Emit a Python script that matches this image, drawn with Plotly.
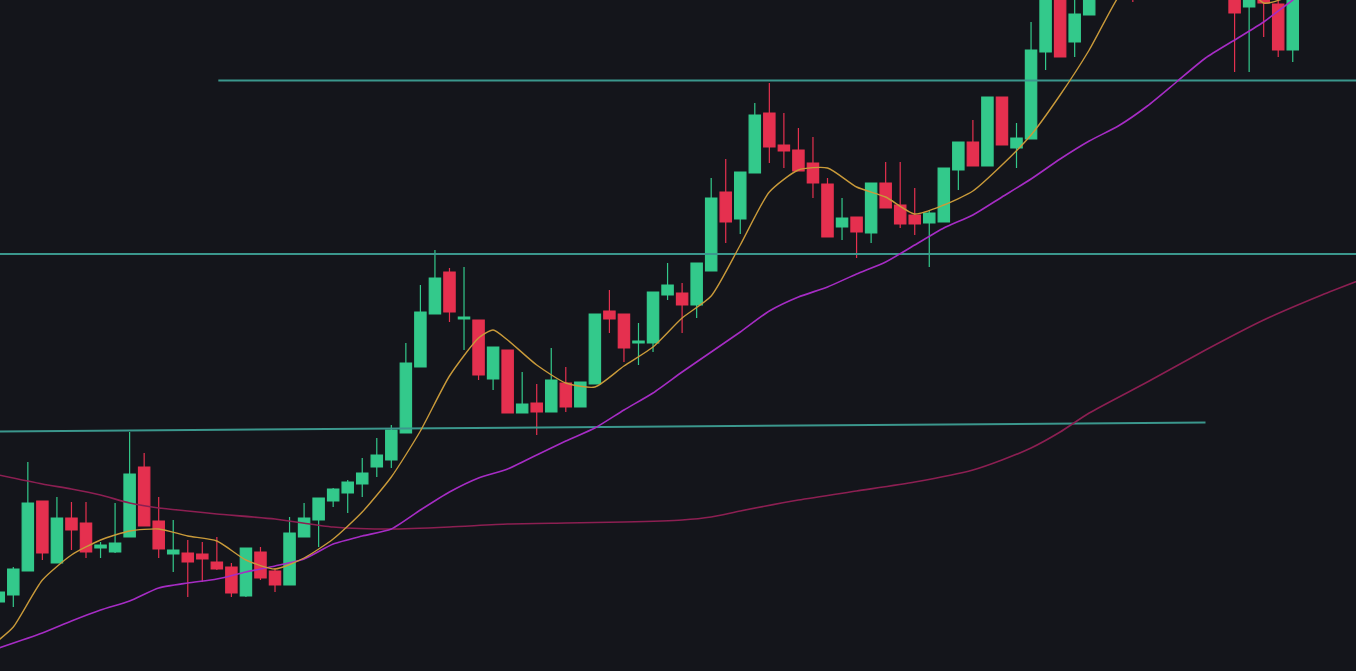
import plotly.graph_objects as go

# --- candles (index 0..89), price units ---
idx = list(range(90))
opens = [69, 76, 100, 170, 108, 153, 148, 123, 119, 134,
         204, 150, 117, 118, 117, 109, 104, 75, 119, 100,
         86, 134, 151, 170, 178, 187, 204, 211, 238, 304,
         357, 399, 352, 351, 292, 321, 258, 268, 259, 288,
         264, 287, 360, 357, 328, 328, 376, 378, 366, 400,
         479, 452, 498, 558, 526, 521, 508, 487, 444, 454,
         438, 488, 466, 456, 448, 449, 501, 529, 505, 574,
         523, 532, 619, 686, 629, 656, 711, 731, 761, 741,
         801, 781, 761, 741, 721, 691, 664, 681, 667, 621]
highs = [83, 104, 209, 170, 174, 169, 169, 129, 168, 239,
         218, 174, 151, 131, 129, 134, 108, 123, 124, 103,
         154, 168, 173, 183, 191, 213, 233, 246, 328, 386,
         421, 403, 404, 351, 324, 321, 299, 287, 323, 304,
         289, 357, 381, 357, 348, 379, 408, 388, 408, 493,
         512, 499, 568, 588, 558, 543, 534, 493, 473, 454,
         488, 509, 509, 483, 461, 503, 529, 551, 574, 574,
         548, 649, 701, 696, 681, 711, 765, 791, 771, 801,
         811, 791, 771, 751, 731, 701, 696, 691, 676, 701]
lows = [65, 64, 100, 111, 108, 121, 113, 113, 118, 134,
        145, 113, 99, 74, 89, 101, 74, 74, 91, 79,
        86, 134, 124, 164, 158, 174, 194, 203, 238, 304,
        357, 349, 321, 291, 281, 258, 258, 236, 259, 259,
        264, 287, 338, 309, 306, 319, 371, 338, 353, 400,
        428, 437, 498, 508, 503, 500, 473, 434, 431, 413,
        428, 463, 443, 436, 404, 449, 481, 505, 505, 526,
        503, 532, 601, 614, 614, 656, 701, 721, 669, 731,
        741, 721, 701, 691, 681, 599, 599, 634, 614, 609]
closes = [79, 102, 168, 118, 153, 141, 119, 126, 128, 197,
          145, 122, 121, 109, 112, 102, 78, 123, 93, 86,
          138, 153, 173, 182, 189, 198, 216, 241, 308, 359,
          393, 359, 354, 296, 324, 258, 267, 259, 291, 264,
          289, 357, 352, 323, 330, 379, 386, 366, 408, 473,
          449, 499, 556, 524, 520, 500, 488, 434, 453, 439,
          488, 463, 447, 447, 458, 503, 529, 505, 574, 526,
          533, 621, 691, 614, 657, 701, 751, 781, 701, 791,
          751, 731, 711, 701, 691, 658, 686, 668, 621, 691]

# --- moving averages, sampled ---
ma_fast_x = [0, 1, 3, 5, 7, 9, 11, 13, 15, 17, 19, 21, 23, 25, 27, 29, 31, 33, 34, 35,
             37, 39, 41, 43, 45, 47, 49, 51, 53, 55, 57, 59, 61, 63, 65, 67, 69, 71, 73, 75,
             77, 79, 81, 83, 85, 87, 89]
ma_fast = [31, 44, 91, 116, 131, 140, 142, 135, 130, 111, 102, 113, 132, 159, 194, 240, 295, 333, 341, 331,
           306, 288, 284, 305, 324, 353, 375, 426, 479, 501, 503, 484, 474, 457, 466, 480, 506, 536, 576, 621,
           674, 711, 731, 726, 701, 668, 676]

ma_mid_x = [0, 3, 5, 7, 9, 11, 13, 15, 17, 19, 21, 23, 25, 27, 29, 31, 33, 35, 37, 39,
            41, 43, 45, 47, 49, 51, 53, 55, 57, 59, 61, 63, 65, 67, 69, 71, 73, 75, 77, 79,
            81, 83, 85, 87, 89, 91]
ma_mid = [23, 38, 50, 61, 70, 83, 88, 92, 99, 105, 112, 127, 135, 142, 161, 179, 193, 202, 216, 230,
          243, 261, 278, 299, 319, 339, 360, 374, 384, 397, 409, 426, 443, 456, 474, 492, 512, 530, 545, 565,
          589, 613, 631, 649, 671, 691]

ma_slow_x = [0, 3, 5, 7, 9, 11, 13, 15, 19, 23, 27, 31, 35, 39, 43, 47, 49, 51, 55, 59,
             63, 67, 69, 71, 73, 75, 79, 83, 87, 91, 94]
ma_slow = [196, 187, 182, 176, 168, 163, 160, 157, 152, 144, 142, 144, 147, 148, 149, 151, 154, 160, 171, 180,
           189, 201, 211, 223, 239, 258, 289, 321, 351, 376, 393]

# --- drawn levels ---
resistance_x = [15.1, 94]
resistance = [590.5, 590.5]
mid_level_x = [0, 94]
mid_level = [417, 417]
trend_x = [0, 83]
trend = [239.5, 248.5]

GREEN = "#33c98b"
RED = "#e5304f"
TEAL = "#3b978d"

fig = go.Figure()

for lx, ly in [(resistance_x, resistance), (mid_level_x, mid_level), (trend_x, trend)]:
    fig.add_trace(go.Scatter(x=lx, y=ly, mode="lines",
                             line=dict(color=TEAL, width=2), hoverinfo="skip"))

fig.add_trace(go.Scatter(x=ma_slow_x, y=ma_slow, mode="lines",
                         line=dict(color="#8c1f52", width=1.6, shape="spline", smoothing=0.6)))
fig.add_trace(go.Scatter(x=ma_mid_x, y=ma_mid, mode="lines",
                         line=dict(color="#a62cc4", width=1.6, shape="spline", smoothing=0.6)))

fig.add_trace(go.Candlestick(
    x=idx, open=opens, high=highs, low=lows, close=closes,
    increasing=dict(line=dict(color=GREEN, width=1.2), fillcolor=GREEN),
    decreasing=dict(line=dict(color=RED, width=1.2), fillcolor=RED),
))

fig.add_trace(go.Scatter(x=ma_fast_x, y=ma_fast, mode="lines",
                         line=dict(color="#c99a3a", width=1.4, shape="spline", smoothing=0.6)))

fig.update_layout(
    width=1356, height=671,
    margin=dict(l=0, r=0, t=0, b=0),
    paper_bgcolor="#14151b", plot_bgcolor="#14151b",
    showlegend=False,
    boxgap=0.22, boxgroupgap=0,
    xaxis=dict(range=[0.085, 93.35], visible=False, rangeslider=dict(visible=False)),
    yaxis=dict(range=[0, 671], visible=False),
)

fig.write_html("out.html", config={"displayModeBar": False},
               post_script="document.body.style.margin='0';"
                           "document.body.style.background='#14151b';")
